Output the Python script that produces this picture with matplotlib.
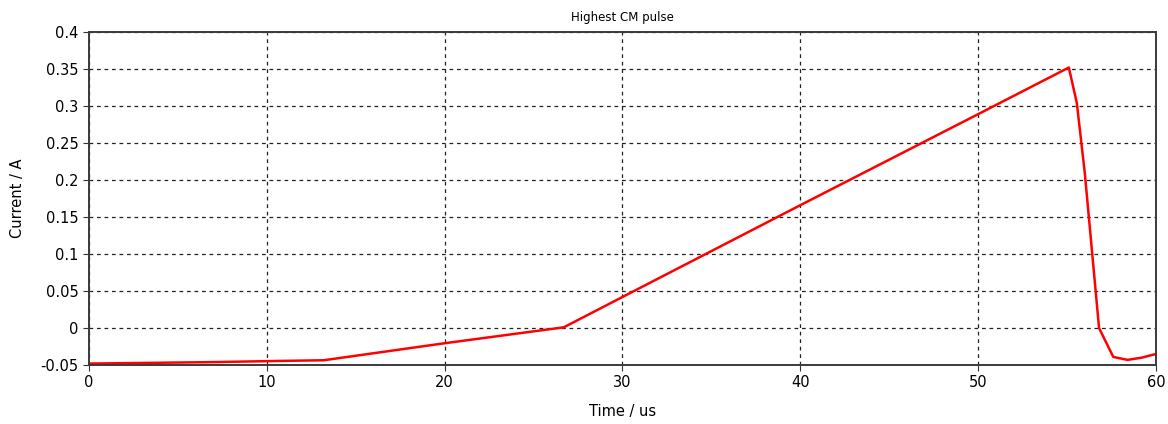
import numpy as np
import matplotlib.pyplot as plt

# pulse samples (time in us, current in A)
time_us = [0, 3.5, 7.0, 10.5, 13.2, 20.0, 26.7, 30.0, 40.0, 50.0, 55.1,
           55.55, 56.0, 56.8, 57.6, 58.4, 59.2, 60.0]
current_a = [-0.048, -0.047, -0.046, -0.0445, -0.0435, -0.0205, 0.001, 0.042,
             0.166, 0.289, 0.352, 0.304, 0.209, 0.0, -0.039, -0.043, -0.040, -0.035]

x_ticks = [0, 10, 20, 30, 40, 50, 60]
y_ticks = [-0.05, 0, 0.05, 0.1, 0.15, 0.2, 0.25, 0.3, 0.35, 0.4]
y_labels = ["-0.05", "0", "0.05", "0.1", "0.15", "0.2", "0.25", "0.3", "0.35", "0.4"]

plt.rcParams['font.family'] = ['DejaVu Sans']

fig = plt.figure(figsize=(11.68, 4.24), dpi=100)
ax = fig.add_axes([0.0762, 0.139, 0.9135, 0.7855])

ax.plot(time_us, current_a, color='#ff0000', lw=1.8, zorder=3)

ax.set_xlim(0, 60)
ax.set_ylim(-0.05, 0.4)
ax.set_xticks(x_ticks)
ax.set_yticks(y_ticks)
ax.set_yticklabels(y_labels)
ax.tick_params(labelsize=10.5, length=4, color='#333333')
ax.grid(True, color='#222222', linestyle=(0, (3, 3)), linewidth=0.9)
ax.set_axisbelow(True)

for s in ax.spines.values():
    s.set_color('#3a3a3a')
    s.set_linewidth(1.4)
    s.set_zorder(4)

ax.set_title("Highest CM pulse", fontsize=8.5, pad=8)
ax.set_xlabel("Time / us", fontsize=10.5, labelpad=10)
ax.set_ylabel("Current / A", fontsize=10.5, labelpad=11)

fig.savefig("out.png", dpi=100)
